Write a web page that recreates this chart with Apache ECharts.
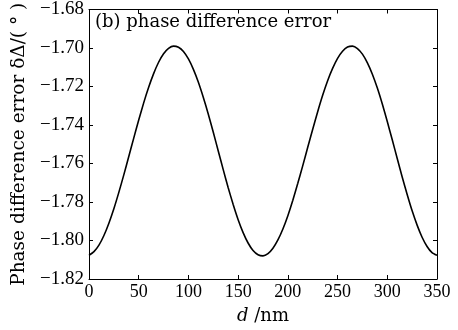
<!DOCTYPE html>
<html>
<head>
<meta charset="utf-8">
<script src="https://cdn.jsdelivr.net/npm/echarts@6/dist/echarts.min.js"></script>
<style>
html,body{margin:0;padding:0;background:#fff;}
#c{width:458px;height:330px;}
</style>
</head>
<body>
<div id="c"></div>
<script>
// d (nm)
var dValues = [0,5,10,15,20,25,30,35,40,45,50,55,60,65,70,75,80,85,90,95,100,105,110,115,120,125,130,135,140,145,150,155,160,165,170,175,180,185,190,195,200,205,210,215,220,225,230,235,240,245,250,255,260,265,270,275,280,285,290,295,300,305,310,315,320,325,330,335,340,345,350];
// phase difference error (degrees)
var errValues = [-1.8077,-1.8058,-1.8024,-1.7974,-1.7910,-1.7835,-1.7750,-1.7659,-1.7564,-1.7468,-1.7374,-1.7285,-1.7204,-1.7133,-1.7074,-1.7030,-1.7002,-1.6990,-1.6996,-1.7018,-1.7057,-1.7111,-1.7178,-1.7257,-1.7344,-1.7438,-1.7535,-1.7632,-1.7726,-1.7813,-1.7892,-1.7959,-1.8013,-1.8052,-1.8074,-1.8080,-1.8068,-1.8040,-1.7997,-1.7940,-1.7871,-1.7791,-1.7703,-1.7611,-1.7516,-1.7422,-1.7331,-1.7246,-1.7170,-1.7106,-1.7054,-1.7017,-1.6995,-1.6990,-1.7003,-1.7032,-1.7077,-1.7136,-1.7208,-1.7291,-1.7382,-1.7477,-1.7574,-1.7670,-1.7761,-1.7846,-1.7920,-1.7983,-1.8031,-1.8063,-1.8077];
var xTicks = [0,50,100,150,200,250,300,350];
var yTicks = [-1.82,-1.80,-1.78,-1.76,-1.74,-1.72,-1.70,-1.68];

var font = '"Liberation Serif", "DejaVu Serif", serif';
var font2 = '"DejaVu Serif", "Liberation Serif", serif';
var pts = dValues.map(function(d,i){return [d, errValues[i]];});

var chart = echarts.init(document.getElementById('c'), null, {renderer:'canvas'});
var axisLine = {show:true, onZero:false, lineStyle:{color:'#000', width:1}};
var tick = {show:true, inside:true, length:4, lineStyle:{color:'#000', width:1}};
chart.setOption({
  backgroundColor:'#fff',
  animation:false,
  grid:{left:89, right:21, top:9, bottom:49, containLabel:false},
  xAxis:[{
    type:'value', min:0, max:350, interval:50, position:'bottom',
    axisLine:axisLine, axisTick:tick, splitLine:{show:false},
    axisLabel:{color:'#000', fontFamily:font, fontSize:18, margin:4},
    name:'{i|d} /nm', nameLocation:'middle', nameGap:28,
    nameTextStyle:{color:'#000', fontFamily:font2, fontSize:18,
      rich:{i:{fontStyle:'italic', fontFamily:font2, fontSize:18, color:'#000'}}}
  },{
    type:'value', min:0, max:350, interval:50, position:'top',
    axisLine:axisLine, axisTick:tick, splitLine:{show:false}, axisLabel:{show:false}
  }],
  yAxis:[{
    type:'value', min:-1.82, max:-1.68, interval:0.02, position:'left',
    axisLine:axisLine, axisTick:tick, splitLine:{show:false},
    axisLabel:{color:'#000', fontFamily:font, fontSize:19, margin:5,
      formatter:function(v){return v.toFixed(2).replace('-','\u2212');}},
    name:'Phase difference error \u03b4\u0394/( \u00b0 )', nameLocation:'middle', nameGap:51, nameRotate:90,
    nameTextStyle:{color:'#000', fontFamily:font2, fontSize:18.5}
  },{
    type:'value', min:-1.82, max:-1.68, interval:0.02, position:'right',
    axisLine:axisLine, axisTick:tick, splitLine:{show:false}, axisLabel:{show:false}
  }],
  graphic:[{
    type:'text', left:95, top:13,
    style:{text:'(b) phase difference error', font:'18px '+font2, fill:'#000'}
  }],
  series:[{
    type:'line', xAxisIndex:0, yAxisIndex:0, data:pts, smooth:0.2, showSymbol:false,
    lineStyle:{color:'#000', width:1.6}
  }]
});
</script>
</body>
</html>
